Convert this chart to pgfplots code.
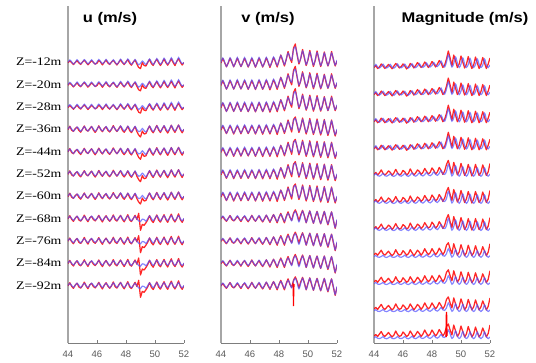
\documentclass[border=0pt]{standalone}
\usepackage{fontspec}
\setmainfont{Liberation Serif}
\setsansfont{Liberation Sans}
\usepackage{graphicx}
\usepackage{pgfplots}
\pgfplotsset{compat=1.18}
\usepackage{pgfplotstable}
\definecolor{myred}{RGB}{255,0,0}
\definecolor{myblue}{RGB}{80,80,255}
\definecolor{axgray}{RGB}{125,125,125}

% deviations in pixels, positive = downward
\pgfplotstableread{
x b1 r1 b2 r2 b3 r3
44.000 0.3 0.8 0.2 0.6 0.0 0.5
44.125 -2.0 -1.2 -2.2 -2.8 -1.9 -2.6
44.250 -0.2 0.6 0.0 1.2 0.2 1.0
44.375 2.0 2.6 2.1 2.4 2.0 3.0
44.500 0.4 0.5 0.3 -0.5 0.0 -0.3
44.625 -2.3 -1.5 -2.0 -1.9 -2.1 -2.2
44.750 0.0 1.0 -0.2 1.4 0.1 1.6
44.875 1.8 2.4 2.2 3.2 2.2 2.8
45.000 0.2 0.0 0.1 0.2 -0.1 0.4
45.125 -2.4 -1.8 -2.4 -3.0 -2.0 -3.2
45.250 -0.3 0.5 0.0 0.9 0.2 0.6
45.375 1.9 2.8 2.0 2.2 2.1 3.4
45.500 0.1 0.8 0.2 -0.4 0.0 -0.5
45.625 -2.2 -1.4 -2.3 -2.6 -2.2 -2.0
45.750 0.2 0.4 -0.1 1.0 0.0 1.2
45.875 2.1 2.2 2.3 3.4 1.9 2.6
46.000 0.0 1.2 0.3 0.6 0.2 0.2
46.125 -2.5 -1.6 -2.6 -3.2 -2.3 -3.0
46.250 -0.4 0.2 -0.2 0.5 -0.1 1.0
46.375 1.7 2.9 2.0 2.7 2.2 3.6
46.500 0.3 0.3 0.2 -0.6 0.1 -0.2
46.625 -2.6 -2.0 -2.4 -2.2 -2.1 -2.6
46.750 0.0 1.0 0.1 1.3 0.0 0.8
46.875 2.0 2.5 2.2 3.0 2.3 3.0
47.000 0.4 0.0 0.0 0.4 0.2 0.6
47.125 -2.2 -1.7 -2.5 -3.4 -2.4 -3.4
47.250 0.1 0.8 -0.3 0.2 -0.2 1.4
47.375 2.3 3.0 2.1 2.5 2.0 2.8
47.500 0.2 0.5 0.3 -0.3 0.1 -0.4
47.625 -2.8 -2.2 -2.9 -3.0 -2.5 -3.0
47.750 -0.3 0.6 -0.4 1.2 0.0 1.0
47.875 1.9 2.6 2.0 3.3 2.2 3.5
48.000 0.5 -0.2 0.4 0.6 0.2 0.0
48.125 -3.0 -2.4 -2.7 -2.8 -2.4 -3.6
48.250 -0.5 1.2 -0.2 1.5 0.1 1.6
48.375 2.2 3.2 2.5 3.6 2.4 3.2
48.500 0.6 0.0 0.5 0.5 0.3 0.2
48.625 -2.5 -2.0 -2.6 -2.4 -2.2 -3.0
48.750 0.4 2.0 0.6 2.5 0.5 1.2
48.875 2.8 5.5 2.6 6.0 2.6 -5.0
49.000 1.5 6.5 2.0 8.0 3.2 12.0
49.125 -1.0 0.5 -0.5 2.0 0.8 6.0
49.250 0.8 3.5 1.5 5.0 1.2 7.0
49.375 2.5 4.0 3.0 4.5 2.8 4.5
49.500 0.0 0.4 0.2 0.6 0.3 1.5
49.625 -3.0 -2.6 -2.8 -3.0 -2.4 -2.8
49.750 -0.2 1.5 0.0 1.4 0.0 2.0
49.875 2.4 3.4 2.6 3.8 2.4 4.2
50.000 0.3 -0.2 0.2 0.2 0.1 0.5
50.125 -3.4 -2.8 -3.0 -3.6 -2.6 -3.4
50.250 -0.5 0.8 -0.3 1.0 -0.2 1.8
50.375 2.2 3.5 2.4 3.5 2.5 3.8
50.500 0.0 0.5 0.0 -0.2 0.0 0.0
50.625 -3.8 -3.0 -3.2 -3.2 -2.6 -3.6
50.750 -0.6 0.6 -0.4 1.2 0.0 1.2
50.875 2.0 3.2 2.2 4.0 2.3 4.0
51.000 -0.2 0.2 0.1 0.5 0.2 -0.5
51.125 -4.2 -3.2 -3.5 -3.8 -2.8 -4.2
51.250 -0.8 0.4 -0.5 0.6 -0.1 1.0
51.375 1.8 3.6 2.0 3.4 2.4 3.6
51.500 -0.4 -0.5 -0.2 -0.4 0.0 0.2
51.625 -4.5 -3.4 -3.6 -4.0 -2.7 -4.5
51.750 -1.0 0.2 -0.6 0.8 0.2 1.4
51.875 1.6 3.0 2.1 3.8 2.5 4.0
52.000 0.5 0.6 0.4 0.2 0.0 0.5
}\tabU

\pgfplotstableread{
x b1 r1 b2 r2 b3 r3
44.000 0.5 1.0 0.4 1.0 0.2 0.6
44.125 -4.0 -3.6 -3.6 -3.0 -2.2 -1.8
44.250 0.0 0.6 0.0 0.8 0.0 1.0
44.375 4.5 4.8 4.0 4.6 2.4 3.0
44.500 0.5 1.0 0.3 0.6 0.2 0.0
44.625 -4.2 -3.8 -3.8 -3.2 -2.4 -2.8
44.750 -0.2 0.4 -0.2 0.6 -0.1 1.2
44.875 4.4 4.8 4.1 5.0 2.2 2.6
45.000 0.4 0.8 0.2 1.0 0.2 0.8
45.125 -4.5 -4.0 -3.7 -3.0 -2.5 -2.0
45.250 0.0 0.6 0.1 0.5 0.0 0.5
45.375 4.3 4.6 4.0 4.8 2.3 3.2
45.500 0.3 0.8 0.3 0.6 0.2 -0.4
45.625 -4.4 -3.8 -4.0 -3.4 -2.6 -2.2
45.750 -0.1 0.5 -0.2 0.8 0.0 1.0
45.875 4.5 5.0 3.9 4.6 2.5 3.4
46.000 0.5 1.0 0.2 1.0 0.3 0.6
46.125 -4.3 -3.6 -3.8 -3.2 -2.5 -3.0
46.250 0.0 0.6 0.0 0.4 -0.2 0.8
46.375 4.6 5.2 4.2 5.0 2.6 3.0
46.500 0.2 0.8 0.3 0.8 0.2 0.0
46.625 -4.5 -4.0 -4.0 -3.6 -2.8 -2.4
46.750 -0.2 0.4 -0.1 0.6 0.0 1.2
46.875 4.4 5.0 4.0 5.2 2.8 3.6
47.000 0.3 1.0 0.2 0.4 0.2 0.4
47.125 -4.6 -4.2 -4.2 -3.6 -3.0 -3.2
47.250 -0.3 0.3 -0.3 0.8 -0.2 0.6
47.375 4.2 5.5 3.8 5.0 3.0 4.0
47.500 0.0 0.6 0.0 0.0 0.0 -0.2
47.625 -5.0 -4.5 -4.5 -4.0 -3.4 -3.8
47.750 -1.0 -0.2 -0.8 0.0 -0.5 0.5
47.875 3.5 5.0 3.5 5.5 3.2 4.5
48.000 -1.5 -1.0 -1.0 -0.5 -0.5 -1.0
48.125 -6.5 -7.0 -5.5 -6.0 -4.0 -5.0
48.250 -2.5 -1.5 -1.8 -1.0 -1.0 0.0
48.375 2.5 4.0 3.0 4.5 3.0 4.5
48.500 -3.0 -2.5 -2.0 -1.5 -1.0 -2.0
48.625 -9.0 -10.5 -7.5 -9.0 -5.0 -6.5
48.750 -5.0 -4.0 -3.5 -2.5 -2.0 -1.0
48.875 -2.0 0.5 0.5 3.0 2.5 2.0
49.000 -12.0 -14.0 -8.0 -9.5 -4.0 -5.0
49.125 -15.0 -18.0 -10.5 -12.0 -7.0 -8.5
49.250 -8.0 -7.0 -5.0 -4.0 -2.5 -4.0
49.375 0.5 2.0 2.0 3.5 3.5 2.5
49.500 -4.0 -3.5 -3.0 -2.0 -2.0 -3.5
49.625 -11.0 -12.5 -9.5 -11.0 -7.0 -8.0
49.750 -5.0 -4.0 -3.5 -2.5 -2.0 -2.5
49.875 2.5 3.5 3.5 5.0 4.0 4.5
50.000 -3.0 -2.0 -2.0 -1.0 -1.5 -2.0
50.125 -10.0 -11.5 -9.0 -10.5 -7.0 -7.5
50.250 -4.0 -3.0 -2.5 -1.5 -1.5 -0.5
50.375 3.0 4.5 4.0 5.5 4.5 5.0
50.500 -2.5 -1.5 -1.5 -0.5 -1.0 -1.5
50.625 -9.5 -11.0 -8.5 -10.0 -6.5 -7.0
50.750 -3.5 -2.5 -2.0 -1.0 -1.0 0.0
50.875 3.5 4.5 4.5 6.0 5.0 5.5
51.000 -2.0 -1.0 -1.0 0.0 -0.5 -1.0
51.125 -9.0 -10.0 -8.5 -9.5 -6.5 -7.0
51.250 -3.0 -2.0 -1.5 -0.5 -0.5 0.5
51.375 3.5 4.0 5.0 6.5 5.5 6.5
51.500 -2.0 -1.5 -1.0 0.0 0.0 -0.5
51.625 -9.0 -10.5 -8.0 -9.0 -6.0 -6.5
51.750 -3.0 -2.5 -1.0 0.0 1.0 2.0
51.875 3.0 4.0 5.5 7.0 9.0 10.0
52.000 -2.0 -1.0 0.0 1.0 1.0 2.0
}\tabV

\pgfplotstableread{
x b1 r1 b2 r2 b3 r3
44.000 0.0 0.5 0.0 -1.0 0.0 -2.0
44.125 -2.5 -1.5 -1.8 -3.0 -1.2 -3.5
44.250 0.0 1.5 0.2 -0.5 0.3 -1.5
44.375 1.0 0.0 0.8 -2.5 0.6 -4.0
44.500 -0.5 -3.0 -0.2 -5.5 -0.2 -6.5
44.625 -2.8 -1.0 -2.0 -2.0 -1.4 -3.0
44.750 0.0 1.5 0.3 -0.5 0.3 -1.5
44.875 1.0 -0.5 0.8 -2.0 0.8 -3.5
45.000 -0.3 -2.5 -0.2 -4.5 -0.1 -5.5
45.125 -2.6 -0.5 -1.8 -3.0 -1.3 -3.0
45.250 0.2 1.8 0.4 0.0 0.4 -1.0
45.375 1.2 -1.0 1.0 -2.5 0.7 -3.0
45.500 -0.5 -3.5 0.0 -6.0 0.0 -7.0
45.625 -3.0 -1.5 -2.2 -2.5 -1.5 -3.5
45.750 0.0 1.0 0.2 -0.5 0.2 -1.5
45.875 0.8 -0.5 0.8 -1.5 0.6 -2.5
46.000 -0.4 -3.0 -0.3 -5.0 -0.2 -6.0
46.125 -2.8 -1.0 -2.0 -3.5 -1.6 -4.0
46.250 0.0 2.0 0.2 -0.5 0.2 -1.5
46.375 1.0 0.0 1.0 -2.0 0.8 -3.0
46.500 -0.6 -3.5 -0.4 -6.5 -0.3 -7.0
46.625 -3.2 -2.0 -2.4 -3.0 -1.8 -4.0
46.750 -0.2 1.0 0.0 -0.5 0.1 -1.0
46.875 0.6 -1.5 0.8 -2.5 0.7 -3.5
47.000 -0.8 -4.5 -0.5 -5.5 -0.3 -6.5
47.125 -3.5 -2.0 -2.6 -4.0 -2.0 -4.5
47.250 -0.5 0.5 -0.2 -1.0 0.0 -1.5
47.375 0.4 -1.5 0.6 -3.0 0.5 -4.0
47.500 -1.0 -5.0 -0.8 -7.0 -0.5 -8.0
47.625 -4.0 -2.5 -3.0 -4.0 -2.2 -4.5
47.750 -1.0 0.5 -0.5 -1.5 -0.2 -2.0
47.875 0.0 -2.0 0.4 -3.0 0.4 -4.0
48.000 -1.5 -5.5 -1.0 -7.5 -0.8 -8.0
48.125 -4.5 -3.0 -3.6 -5.0 -2.8 -5.0
48.250 -1.5 0.0 -1.0 -1.5 -0.5 -2.0
48.375 -0.5 -3.0 0.0 -3.5 0.2 -4.5
48.500 -2.5 -6.5 -2.0 -8.0 -1.2 -8.5
48.625 -6.0 -4.0 -5.0 -5.0 -3.5 -5.5
48.750 -2.0 0.5 -1.5 -1.0 -1.0 -2.0
48.875 0.0 -2.0 -1.0 -4.5 -0.5 -5.0
49.000 -5.0 -8.0 -4.0 -11.0 -3.0 -11.5
49.125 -12.0 -16.0 -11.0 -15.0 -8.0 -14.0
49.250 -6.0 -9.0 -5.5 -8.0 -4.0 -8.0
49.375 0.0 -1.0 0.5 -2.0 0.4 -3.0
49.500 -3.5 -12.0 -3.0 -13.0 -2.0 -13.0
49.625 -10.0 -6.0 -9.5 -7.0 -7.0 -7.0
49.750 -4.0 0.5 -3.0 -0.5 -2.0 -1.5
49.875 0.5 -3.0 0.8 -4.0 0.5 -4.5
50.000 -3.0 -11.0 -2.5 -12.0 -1.5 -12.0
50.125 -9.0 -5.0 -8.5 -6.0 -6.5 -6.5
50.250 -3.0 1.0 -2.5 0.0 -1.5 -1.0
50.375 0.5 -2.5 0.8 -3.5 0.5 -4.0
50.500 -2.5 -10.5 -2.0 -11.0 -1.5 -11.5
50.625 -8.5 -4.0 -8.0 -5.0 -6.0 -6.0
50.750 -2.5 1.5 -2.0 0.5 -1.5 -1.0
50.875 0.5 -2.0 0.8 -3.5 0.6 -4.0
51.000 -2.5 -10.0 -2.0 -11.0 -1.5 -11.0
51.125 -8.0 -4.0 -7.5 -5.0 -6.0 -5.5
51.250 -2.5 1.5 -2.0 0.0 -1.0 -1.0
51.375 0.5 -2.5 0.8 -3.0 0.6 -4.0
51.500 -2.0 -9.5 -1.5 -10.5 -1.0 -10.0
51.625 -8.0 -4.0 -7.5 -5.0 -6.0 -5.5
51.750 -2.0 1.5 -1.5 0.0 -1.0 -1.0
51.875 0.5 -3.0 0.8 -3.5 0.6 -4.5
52.000 -2.0 -9.0 -1.5 -12.0 -1.0 -13.0
}\tabM

\newcommand{\rw}[4]{%
  \addplot[myred, line width=1.25pt, opacity=0.85, line join=round] table[x=x, y expr={#4-(\thisrow{#3})}] {#1};
  \addplot[myblue, line width=1.15pt, opacity=0.7, smooth, tension=0.6] table[x=x, y expr={#4-(\thisrow{#2})}] {#1};
}

\pgfplotsset{panel/.style={
  scale only axis, width=116pt, height=337pt,
  xmin=44, xmax=52, ymin=19, ymax=356,
  axis x line=bottom, axis y line=left,
  x axis line style={-, axgray, line width=0.9pt},
  y axis line style={-, black!35, line width=1.4pt},
  xtick={44,46,48,50,52}, ytick=\empty,
  tick align=inside, major tick length=3pt,
  tick style={axgray, line width=0.6pt},
  /pgf/number format/assume math mode=true,
  xticklabel style={font=\sffamily\fontsize{9.5}{10}\selectfont, text=black!65, yshift=-4pt},
}}

\begin{document}
\begin{tikzpicture}
\useasboundingbox (0,0) rectangle (536pt,362pt);

% ---------- u panel ----------
\begin{axis}[panel, at={(68pt,19pt)}, anchor=south west,
  ytick={300,277.67,255.33,233,210.67,188.33,166,143.67,121.33,99,76.67},
  yticklabels={\scalebox{1.2}[1]{Z=-12m},\scalebox{1.2}[1]{Z=-20m},\scalebox{1.2}[1]{Z=-28m},\scalebox{1.2}[1]{Z=-36m},\scalebox{1.2}[1]{Z=-44m},\scalebox{1.2}[1]{Z=-52m},\scalebox{1.2}[1]{Z=-60m},\scalebox{1.2}[1]{Z=-68m},\scalebox{1.2}[1]{Z=-76m},\scalebox{1.2}[1]{Z=-84m},\scalebox{1.2}[1]{Z=-92m}},
  ytick style={draw=none},
  yticklabel style={font=\rmfamily\fontsize{11.5}{12}\selectfont, text=black, xshift=-3pt},
]
\rw{\tabU}{b1}{r1}{300}
\rw{\tabU}{b1}{r1}{277.67}
\rw{\tabU}{b1}{r1}{255.33}
\rw{\tabU}{b2}{r2}{233}
\rw{\tabU}{b2}{r2}{210.67}
\rw{\tabU}{b2}{r2}{188.33}
\rw{\tabU}{b2}{r2}{166}
\rw{\tabU}{b3}{r3}{143.67}
\rw{\tabU}{b3}{r3}{121.33}
\rw{\tabU}{b3}{r3}{99}
\rw{\tabU}{b3}{r3}{76.67}
\end{axis}

% ---------- v panel ----------
\begin{axis}[panel, at={(221pt,19pt)}, anchor=south west]
\rw{\tabV}{b1}{r1}{300}
\rw{\tabV}{b1}{r1}{277.67}
\rw{\tabV}{b1}{r1}{255.33}
\rw{\tabV}{b2}{r2}{233}
\rw{\tabV}{b2}{r2}{210.67}
\rw{\tabV}{b2}{r2}{188.33}
\rw{\tabV}{b2}{r2}{166}
\rw{\tabV}{b3}{r3}{143.67}
\rw{\tabV}{b3}{r3}{121.33}
\rw{\tabV}{b3}{r3}{99}
\rw{\tabV}{b3}{r3}{76.67}
\addplot[myred, line width=1pt] coordinates {(48.96,79) (49.0,56) (49.04,78)};
\end{axis}

% ---------- magnitude panel ----------
\begin{axis}[panel, at={(374pt,19pt)}, anchor=south west]
\rw{\tabM}{b1}{r1}{295}
\rw{\tabM}{b1}{r1}{267.9}
\rw{\tabM}{b1}{r1}{240.8}
\rw{\tabM}{b1}{r1}{213.7}
\rw{\tabM}{b2}{r2}{186.6}
\rw{\tabM}{b2}{r2}{159.5}
\rw{\tabM}{b2}{r2}{132.4}
\rw{\tabM}{b3}{r3}{105.3}
\rw{\tabM}{b3}{r3}{78.2}
\rw{\tabM}{b3}{r3}{51.1}
\rw{\tabM}{b3}{r3}{24}
\addplot[myred, line width=1.4pt] coordinates {(48.97,25) (49.0,50) (49.03,26)};
\end{axis}

\node[font=\sffamily\bfseries\fontsize{14}{16}\selectfont] at (110pt,343.5pt) {\scalebox{1.18}[1]{u (m/s)}};
\node[font=\sffamily\bfseries\fontsize{14}{16}\selectfont] at (268pt,343.5pt) {\scalebox{1.18}[1]{v (m/s)}};
\node[font=\sffamily\bfseries\fontsize{14}{16}\selectfont] at (465pt,343.5pt) {\scalebox{1.18}[1]{Magnitude (m/s)}};
\end{tikzpicture}
\end{document}
